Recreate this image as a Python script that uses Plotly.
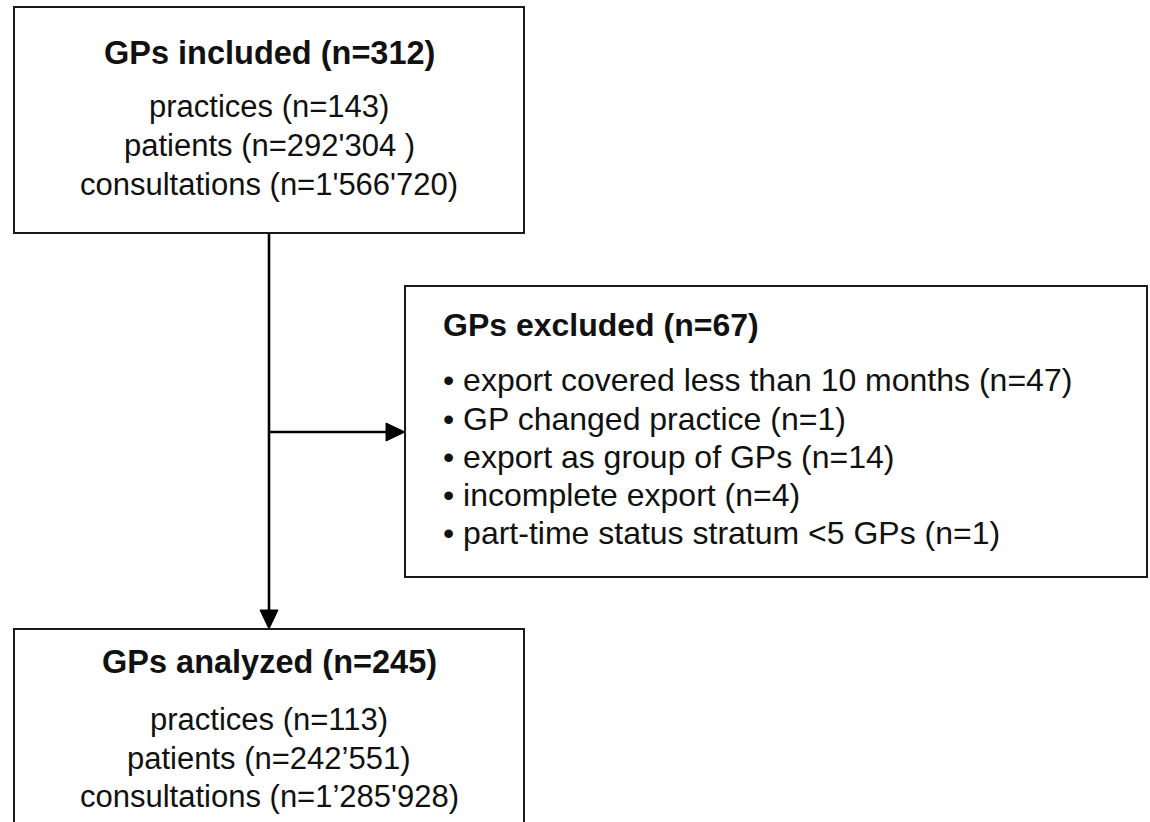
import plotly.graph_objects as go

# ---- content (text data) ----
included_title = "GPs included (n=312)"
included_lines = ["practices (n=143)", "patients (n=292'304 )", "consultations (n=1'566'720)"]
excluded_title = "GPs excluded (n=67)"
excluded_lines = [
    "• export covered less than 10 months (n=47)",
    "• GP changed practice (n=1)",
    "• export as group of GPs (n=14)",
    "• incomplete export (n=4)",
    "• part-time status stratum <5 GPs (n=1)",
]
analyzed_title = "GPs analyzed (n=245)"
analyzed_lines = ["practices (n=113)", "patients (n=242’551)", "consultations (n=1’285'928)"]

# ---- layout constants (screen pixel coordinates) ----
W, H = 1150, 822
FONT = "Liberation Sans, Arial, Helvetica, sans-serif"
FS_BODY = 31
FS_TITLE = 32.5
FS_EXC_BODY = 32
FS_EXC_TITLE = 32
LINE_COLOR = "#1a1a1a"
TEXT_COLOR = "#111111"

top_box = dict(x0=14, x1=524, y0=7, y1=233)
exc_box = dict(x0=405, x1=1147, y0=286, y1=577)
bot_box = dict(x0=14, x1=524, y0=629, y1=840)
stem_x = 269
branch_y = 432

fig = go.Figure()

shapes = []
# boxes
shapes.append(dict(type="rect", xref="x", yref="y", **top_box,
                   line=dict(color=LINE_COLOR, width=2), fillcolor="rgba(0,0,0,0)"))
shapes.append(dict(type="rect", xref="x", yref="y", **exc_box,
                   line=dict(color=LINE_COLOR, width=2), fillcolor="rgba(0,0,0,0)"))
shapes.append(dict(type="path", xref="x", yref="y",
                   path=f"M {bot_box['x0']},{bot_box['y1']} L {bot_box['x0']},{bot_box['y0']} "
                        f"L {bot_box['x1']},{bot_box['y0']} L {bot_box['x1']},{bot_box['y1']}",
                   line=dict(color=LINE_COLOR, width=2)))
# connectors
head_len, head_half = 19, 9
shapes.append(dict(type="line", xref="x", yref="y", x0=stem_x, x1=stem_x,
                   y0=top_box["y1"], y1=bot_box["y0"] - head_len + 1,
                   line=dict(color="black", width=2.6)))
shapes.append(dict(type="line", xref="x", yref="y", x0=stem_x, x1=exc_box["x0"] - head_len + 1,
                   y0=branch_y, y1=branch_y, line=dict(color="black", width=2.6)))
# arrowheads
tip_y = bot_box["y0"]
shapes.append(dict(type="path", xref="x", yref="y",
                   path=f"M {stem_x - head_half},{tip_y - head_len} L {stem_x + head_half},{tip_y - head_len} "
                        f"L {stem_x},{tip_y} Z",
                   fillcolor="black", line=dict(color="black", width=1)))
tip_x = exc_box["x0"]
shapes.append(dict(type="path", xref="x", yref="y",
                   path=f"M {tip_x - head_len},{branch_y - head_half} L {tip_x - head_len},{branch_y + head_half} "
                        f"L {tip_x},{branch_y} Z",
                   fillcolor="black", line=dict(color="black", width=1)))

annotations = []


def add_text(text, x, baseline, size, bold=False, anchor="center"):
    t = f"<b>{text}</b>" if bold else text
    annotations.append(dict(text=t, x=x, y=baseline - 0.33 * size, xref="x", yref="y",
                            xanchor=anchor, yanchor="middle", showarrow=False,
                            font=dict(family=FONT, size=size, color=TEXT_COLOR)))


# top box text
add_text(included_title, stem_x, 64, FS_TITLE, bold=True)
for i, s in enumerate(included_lines):
    add_text(s, stem_x, 117 + i * 39, FS_BODY)

# excluded box text
add_text(excluded_title, 441, 336, FS_EXC_TITLE, bold=True, anchor="left")
for i, s in enumerate(excluded_lines):
    add_text(s, 441, 391 + i * 38.2, FS_EXC_BODY, anchor="left")

# bottom box text
add_text(analyzed_title, stem_x, 673, FS_TITLE, bold=True)
for i, s in enumerate(analyzed_lines):
    add_text(s, stem_x, 730 + i * 38.5, FS_BODY)

fig.update_layout(
    width=W, height=H,
    margin=dict(l=0, r=0, t=0, b=0),
    paper_bgcolor="white", plot_bgcolor="white",
    xaxis=dict(range=[0, W], visible=False, fixedrange=True),
    yaxis=dict(range=[H, 0], visible=False, fixedrange=True),
    shapes=shapes, annotations=annotations, showlegend=False,
)

fig.write_html("out.html",
               config={"displayModeBar": False},
               post_script="document.body.style.margin='0';document.body.style.overflow='hidden';")
